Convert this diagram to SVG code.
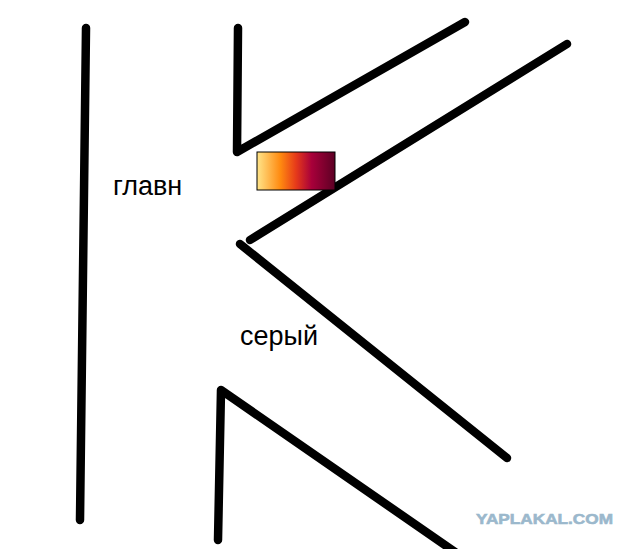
<svg xmlns="http://www.w3.org/2000/svg" width="640" height="549" viewBox="0 0 640 549">
<style>
.ln{fill:none;stroke:#000;stroke-width:8.5;stroke-linecap:round;stroke-linejoin:round}
.lbl{font-family:"Liberation Sans",Arial,sans-serif;font-size:27px;fill:#000}
.wm{font-family:"Liberation Sans",Arial,sans-serif;font-weight:bold;font-size:15px;fill:#9bb8cc;stroke:#9bb8cc;stroke-width:0.6}
</style>
<defs>
<linearGradient id="g" x1="0" y1="0" x2="1" y2="0">
<stop offset="0" stop-color="#ffe58a"/>
<stop offset="0.3" stop-color="#ff8a10"/>
<stop offset="0.5" stop-color="#e63a1a"/>
<stop offset="0.7" stop-color="#a8003a"/>
<stop offset="1" stop-color="#5c0024"/>
</linearGradient>
</defs>
<rect width="640" height="549" fill="#fff"/>
<g id="connectors">
<path class="ln" d="M86,28 L80,520"/>
<path class="ln" d="M238,28 L237,152 L465,22"/>
<path class="ln" d="M250,240 L567,44"/>
<path class="ln" d="M240,244 L507,458"/>
<path class="ln" d="M218,540 L221,390 L455,552"/>
</g>
<g id="swatch"><rect x="257" y="152" width="78" height="38" fill="url(#g)" stroke="#000" stroke-width="1"/></g>
<g id="label1"><text class="lbl" x="113" y="195">главн</text></g>
<g id="label2"><text class="lbl" x="240" y="345">серый</text></g>
<g id="watermark"><text class="wm" x="476" y="524" textLength="137" lengthAdjust="spacingAndGlyphs">YAPLAKAL.COM</text></g>
</svg>
